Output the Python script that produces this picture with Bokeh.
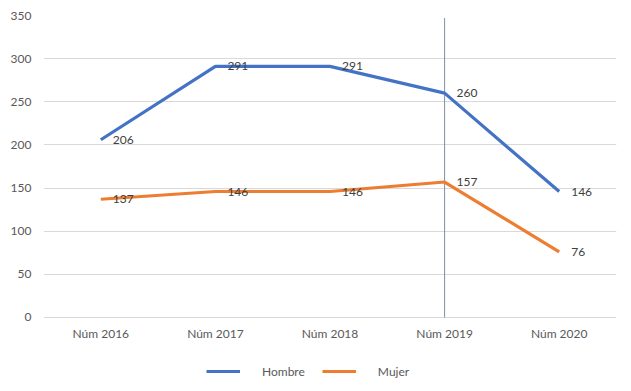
from bokeh.plotting import figure
from bokeh.models import Range1d, Legend, LegendItem, ColumnDataSource
from bokeh.core.properties import value
from bokeh.embed import file_html
from bokeh.resources import INLINE

categories = ["Núm 2016", "Núm 2017", "Núm 2018", "Núm 2019", "Núm 2020"]
hombre = [206, 291, 291, 260, 146]
mujer = [137, 146, 146, 157, 76]
y_ticks = [0, 50, 100, 150, 200, 250, 300, 350]
marker_category = "Núm 2019"

FONT = "Lato"
BLUE = "#4472C4"
ORANGE = "#ED7D31"

# frame extends below the value 0 to host the legend area
p = figure(x_range=categories, y_range=Range1d(-85.8, 350),
           frame_width=573, frame_height=376,
           output_backend="svg", toolbar_location=None,
           min_border_left=43, min_border_right=15, min_border_top=15, min_border_bottom=0)
p.outline_line_color = None
p.background_fill_color = "white"

p.xgrid.grid_line_color = None
p.ygrid.grid_line_color = "#d9d9d9"
p.ygrid.grid_line_width = 1
p.yaxis.ticker = y_ticks
p.xaxis.fixed_location = 0
for ax in (p.xaxis, p.yaxis):
    ax.axis_line_color = None
    ax.major_tick_line_color = None
    ax.minor_tick_line_color = None
    ax.major_tick_out = 0
    ax.major_tick_in = 0
    ax.minor_tick_out = 0
    ax.major_label_text_font = FONT
    ax.major_label_text_font_size = "12px"
    ax.major_label_text_color = "#595959"
p.xaxis.major_label_standoff = 9
p.yaxis.major_label_standoff = 12

# vertical drop line at Núm 2019
p.segment(x0=[marker_category], y0=[0], x1=[marker_category], y1=[347],
          line_color="#7f8fa8", line_width=1)

src = ColumnDataSource(dict(x=categories, h=hombre, m=mujer,
                            hl=[str(v) for v in hombre], ml=[str(v) for v in mujer]))

r_h = p.line("x", "h", source=src, line_color=BLUE, line_width=3.2)
r_m = p.line("x", "m", source=src, line_color=ORANGE, line_width=3.2)

p.text("x", "h", text="hl", source=src, x_offset=12, text_baseline="middle",
       text_font=value(FONT), text_font_size="12px", text_color="#404040")
p.text("x", "m", text="ml", source=src, x_offset=12, text_baseline="middle",
       text_font=value(FONT), text_font_size="12px", text_color="#404040")

legend = Legend(items=[LegendItem(label="Hombre", renderers=[r_h]),
                       LegendItem(label="Mujer", renderers=[r_m])],
                orientation="horizontal", location=(163, 10),
                label_text_font=FONT, label_text_font_size="12px",
                label_text_color="#595959", border_line_color=None,
                background_fill_alpha=0,
                glyph_width=34, spacing=17, label_standoff=22,
                margin=0, padding=4)
p.add_layout(legend, "center")

open("out.html", "w").write(file_html(p, INLINE))
